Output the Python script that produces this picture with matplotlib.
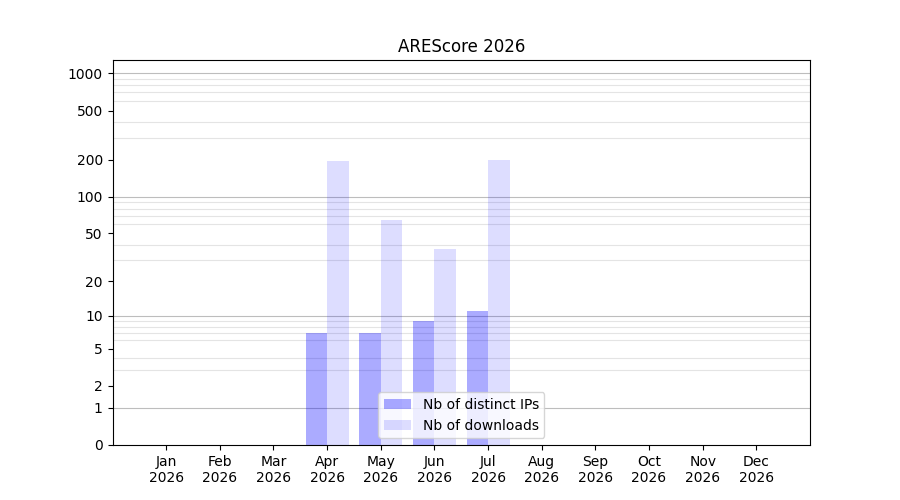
import numpy as np
import matplotlib
matplotlib.use("Agg")
import matplotlib.pyplot as plt

mois = ["Jan", "Feb", "Mar", "Apr", "May", "Jun", "Jul", "Aug", "Sep", "Oct", "Nov", "Dec"]
annee = "2026"
ips_distinctes = [0, 0, 0, 7, 7, 9, 11, 0, 0, 0, 0, 0]
telechargements = [0, 0, 0, 194, 64, 37, 199, 0, 0, 0, 0, 0]
graduations = [0, 1, 2, 5, 10, 20, 50, 100, 200, 500, 1000]
lignes_majeures = [1, 10, 100, 1000]
lignes_mineures = [n * 10 ** k for k in range(3) for n in range(2, 10)]


def vers_log(y):
    return np.log10(1 + np.clip(y, 0, None))


def depuis_log(y):
    return 10 ** y - 1


fig, ax = plt.subplots(figsize=(9, 5), dpi=100)
x = np.arange(len(mois))
ax.bar(x, ips_distinctes, width=-0.4, align="edge", color="blue", alpha=0.33,
       label="Nb of distinct IPs")
ax.bar(x, telechargements, width=0.4, align="edge", color="blue", alpha=0.133,
       label="Nb of downloads")

ax.set_yscale("function", functions=(vers_log, depuis_log))
ax.set_ylim(0, 1280)
ax.set_xlim(-1, 12)
ax.set_yticks(graduations)
ax.set_yticklabels([str(g) for g in graduations])
ax.set_yticks(lignes_mineures, minor=True)
ax.tick_params(axis="y", which="minor", length=0)
ax.set_axisbelow(True)
ax.grid(axis="y", which="minor", color="#e4e4e4", linewidth=0.8)
for v in lignes_majeures:
    ax.axhline(v, color="#bdbdbd", linewidth=0.8, zorder=0.5)

ax.set_xticks(x)
ax.set_xticklabels([f"{m}\n{annee}" for m in mois])
ax.set_title(f"AREScore {annee}")
ax.legend(loc="lower center")

fig.savefig("out.png", dpi=100)
